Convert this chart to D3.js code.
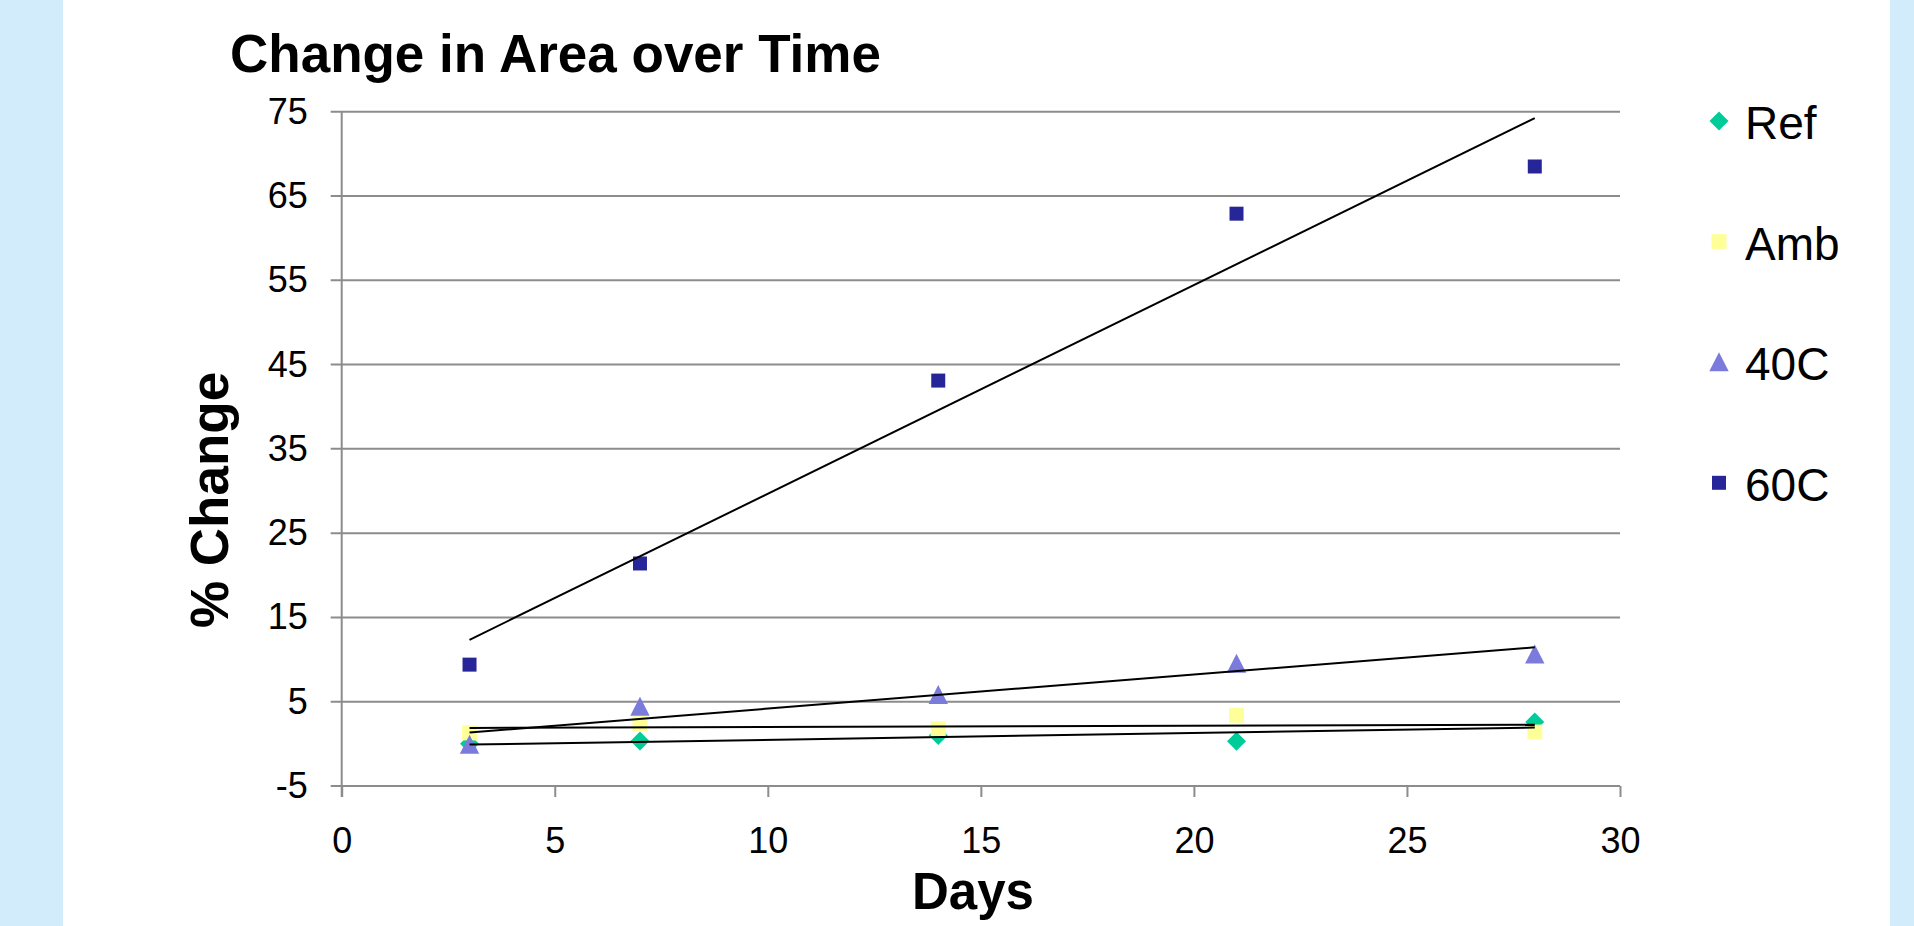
<!DOCTYPE html>
<meta charset="utf-8">
<title>Change in Area over Time</title>
<style>
body {
  margin: 0;
  background: #fff;
}
svg {
  display: block;
  font-family: "Liberation Sans", Arial, sans-serif;
}
</style>
<body></body>
<script src="https://d3js.org/d3.v7.min.js"></script>
<script>
var days = [3, 7, 14, 21, 28];
var seriesNames = ['Ref', 'Amb', '40C', '60C'];
var refValues = [0.0, 0.35, 1.0, 0.3, 2.6];
var ambValues = [1.3, 2.4, 1.8, 3.4, 1.4];
var c40Values = [-0.1, 4.4, 5.8, 9.5, 10.6];
var c60Values = [9.4, 21.4, 43.1, 62.9, 68.5];
var yTicks = [-5, 5, 15, 25, 35, 45, 55, 65, 75];
var xTicks = [0, 5, 10, 15, 20, 25, 30];

var width = 1914,
    height = 926;

var series = [
  { name: seriesNames[0], values: refValues, color: '#00cc99', shape: 'diamond' },
  { name: seriesNames[1], values: ambValues, color: '#ffff99', shape: 'square' },
  { name: seriesNames[2], values: c40Values, color: '#7b7bdc', shape: 'triangle' },
  { name: seriesNames[3], values: c60Values, color: '#262699', shape: 'square60' }
];

var x = d3.scaleLinear().domain([0, 30]).range([341.7, 1620]);
var y = d3.scaleLinear().domain([-5, 75]).range([786, 111.7]);

var svg = d3.select('body').append('svg')
  .attr('width', width)
  .attr('height', height);

// side bands
svg.append('rect').attr('x', 0).attr('y', 0).attr('width', 63).attr('height', height).style('fill', '#d3ecfb');
svg.append('rect').attr('x', 1890).attr('y', 0).attr('width', 24).attr('height', height).style('fill', '#d3ecfb');

svg.append('text')
  .attr('x', 230)
  .attr('y', 72)
  .style('font-size', '53px')
  .style('font-weight', 'bold')
  .text('Change in Area over Time');

// gridlines
svg.append('g').selectAll('line')
  .data(yTicks)
  .enter().append('line')
  .attr('x1', x(0) - 11)
  .attr('x2', x(30))
  .attr('y1', function (d) { return y(d); })
  .attr('y2', function (d) { return y(d); })
  .style('stroke', '#8c8c8c')
  .style('stroke-width', 2);

var plain = function (d) { return String(d); };

var yAxis = svg.append('g')
  .attr('transform', 'translate(' + x(0) + ',0)')
  .call(d3.axisLeft(y).tickValues(yTicks).tickFormat(plain).tickSize(0).tickPadding(34));
yAxis.select('.domain').style('stroke', '#8c8c8c').style('stroke-width', 2)
  .attr('d', 'M0,' + y(75) + 'V' + (y(-5) + 11));
yAxis.selectAll('text').style('font-size', '36px').style('fill', '#000')
  .attr('font-family', null);

var xAxis = svg.append('g')
  .attr('transform', 'translate(0,' + y(-5) + ')')
  .call(d3.axisBottom(x).tickValues(xTicks).tickFormat(plain).tickSize(11).tickPadding(30));
xAxis.select('.domain').remove();
xAxis.selectAll('line').style('stroke', '#8c8c8c').style('stroke-width', 2);
xAxis.selectAll('text').style('font-size', '36px').style('fill', '#000')
  .attr('font-family', null);

svg.append('text')
  .attr('text-anchor', 'middle')
  .attr('x', 973)
  .attr('y', 909)
  .style('font-size', '51px')
  .style('font-weight', 'bold')
  .text('Days');

svg.append('text')
  .attr('text-anchor', 'middle')
  .attr('transform', 'translate(228,500) rotate(-90)')
  .style('font-size', '53px')
  .style('font-weight', 'bold')
  .text('% Change');

function markerPath(shape) {
  if (shape === 'diamond') return 'M0,-9.5L9.5,0L0,9.5L-9.5,0Z';
  if (shape === 'square') return 'M-7.5,-7.5H7.5V7.5H-7.5Z';
  if (shape === 'square60') return 'M-7,-7H7V7H-7Z';
  return 'M0,-10L9.7,9L-9.7,9Z';
}

// trend lines (least squares fit of each series)
function fit(values) {
  var mx = d3.mean(days), my = d3.mean(values);
  var sxy = d3.sum(days, function (d, i) { return (d - mx) * (values[i] - my); });
  var sxx = d3.sum(days, function (d) { return (d - mx) * (d - mx); });
  var slope = sxy / sxx;
  return { slope: slope, intercept: my - slope * mx };
}

var plot = svg.append('g');

series.forEach(function (s) {
  plot.selectAll(null)
    .data(s.values)
    .enter().append('path')
    .attr('d', markerPath(s.shape))
    .attr('transform', function (d, i) { return 'translate(' + x(days[i]) + ',' + y(d) + ')'; })
    .style('fill', s.color);
});

series.forEach(function (s) {
  var f = fit(s.values);
  var x0 = d3.min(days), x1 = d3.max(days);
  plot.append('line')
    .attr('x1', x(x0)).attr('y1', y(f.intercept + f.slope * x0))
    .attr('x2', x(x1)).attr('y2', y(f.intercept + f.slope * x1))
    .style('stroke', '#000')
    .style('stroke-width', 2);
});

// legend
var legend = svg.append('g').selectAll('g')
  .data(series)
  .enter().append('g')
  .attr('transform', function (d, i) { return 'translate(1719,' + (121 + i * 120.6) + ')'; });

legend.append('path')
  .attr('d', function (d) { return markerPath(d.shape); })
  .style('fill', function (d) { return d.color; });

legend.append('text')
  .attr('x', 26)
  .attr('y', 18)
  .style('font-size', '46px')
  .text(function (d) { return d.name; });
</script>
